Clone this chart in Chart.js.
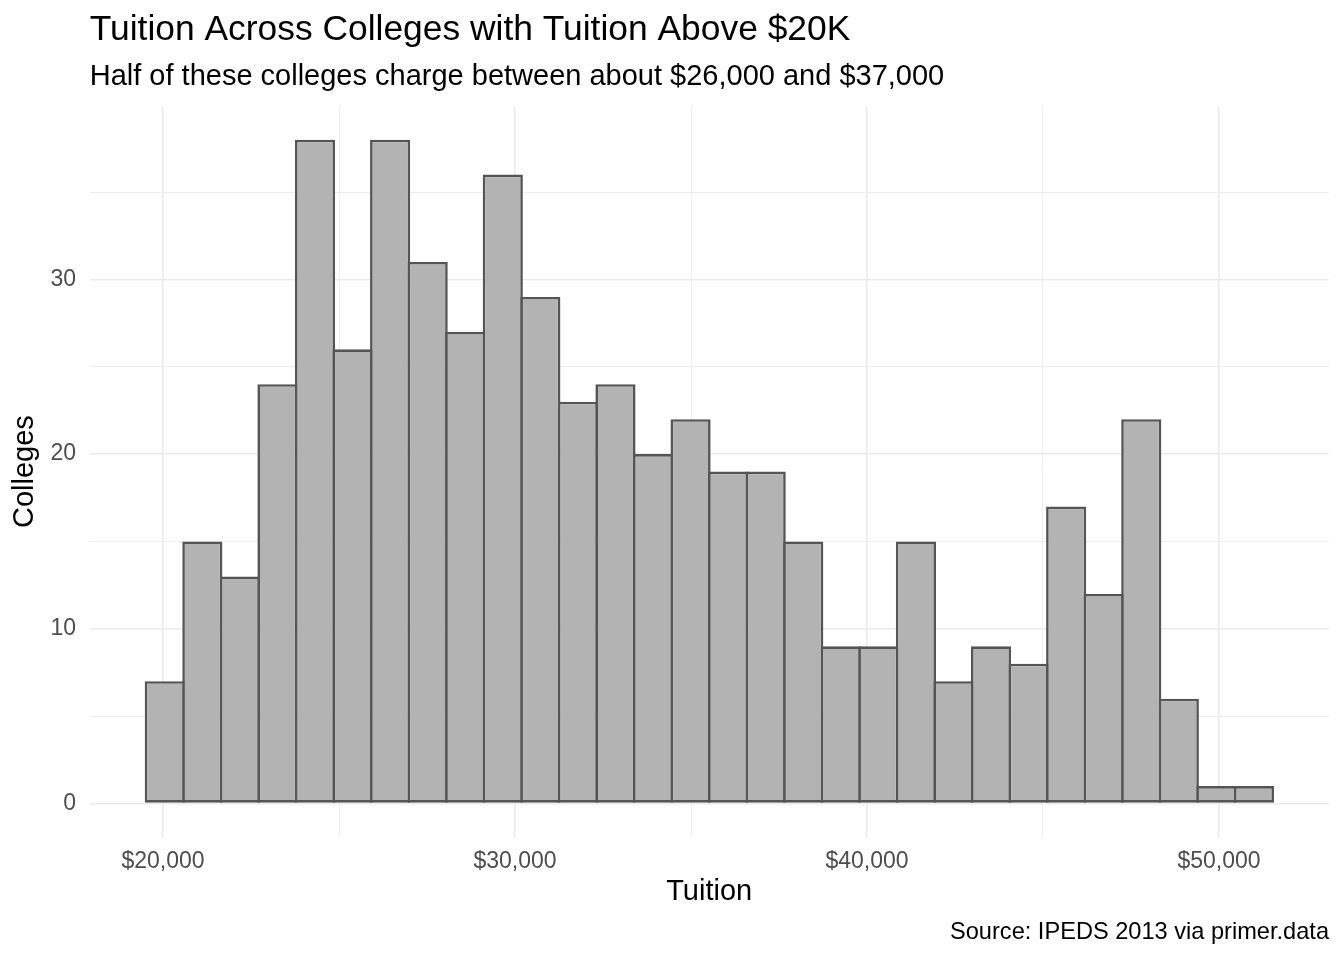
<!DOCTYPE html>
<html>
<head>
<meta charset="utf-8">
<script src="https://cdn.jsdelivr.net/npm/chart.js@4/dist/chart.umd.min.js"></script>
<style>
  html, body { margin: 0; padding: 0; background: #fff; }
  #wrap { width: 1344px; height: 960px; }
</style>
</head>
<body>
<div id="wrap"><canvas id="myChart" width="1344" height="960"></canvas></div>
<script>
// ヒストグラムの各ビンの中心(学費, ドル)
const binCenters = [
  20050, 21117, 22184, 23251, 24318, 25385, 26452, 27519, 28586, 29653,
  30720, 31787, 32854, 33921, 34988, 36055, 37122, 38189, 39256, 40323,
  41390, 42457, 43524, 44591, 45658, 46725, 47792, 48859, 49926, 50993
];

// 各ビンの大学数
const counts = [
  7, 15, 13, 24, 38, 26, 38, 31, 27, 36,
  29, 23, 24, 20, 22, 19, 19, 15, 9, 9,
  15, 7, 9, 8, 17, 12, 22, 6, 1, 1
];

// 目盛り線の位置と、ラベルを出す目盛り
const xGrid = [20000, 25000, 30000, 35000, 40000, 45000, 50000];
const xTickLabels = [20000, 30000, 40000, 50000];
const yGrid = [0, 5, 10, 15, 20, 25, 30, 35];
const yTickLabels = [0, 10, 20, 30];

const titleText = 'Tuition Across Colleges with Tuition Above $20K';
const subtitleText = 'Half of these colleges charge between about $26,000 and $37,000';
const captionText = 'Source: IPEDS 2013 via primer.data';

Chart.defaults.font.family = "'Liberation Sans', Arial, sans-serif";
Chart.defaults.color = '#4d4d4d';

// キャプションは右下に自前で描く
const captionPlugin = {
  id: 'caption',
  afterDraw(chart) {
    const ctx = chart.ctx;
    ctx.save();
    ctx.font = "23.6px 'Liberation Sans', Arial, sans-serif";
    ctx.fillStyle = '#000000';
    ctx.textAlign = 'right';
    ctx.textBaseline = 'alphabetic';
    ctx.fillText(captionText, 1329, 939);
    ctx.restore();
  }
};

const data = {
  datasets: [{
    label: 'Colleges',
    data: binCenters.map((x, i) => ({ x: x, y: counts[i] })),
    backgroundColor: '#b3b3b3',
    borderColor: '#555555',
    borderWidth: 2.6,
    borderSkipped: false,
    barPercentage: 1.069,
    categoryPercentage: 1.0
  }]
};

const config = {
  type: 'bar',
  data: data,
  options: {
    responsive: false,
    animation: false,
    devicePixelRatio: 1,
    layout: { padding: { left: 0, right: 15.3, top: 0, bottom: 40 } },
    plugins: {
      legend: { display: false },
      tooltip: { enabled: false },
      title: {
        display: true,
        text: titleText,
        align: 'start',
        fullSize: false,
        color: '#000000',
        font: { size: 35.4, weight: 'normal' },
        padding: { top: 8.5, bottom: 0 }
      },
      subtitle: {
        display: true,
        text: subtitleText,
        align: 'start',
        fullSize: false,
        color: '#000000',
        font: { size: 29, weight: 'normal' },
        padding: { top: 8.6, bottom: 12.1 }
      }
    },
    scales: {
      x: {
        type: 'linear',
        offset: false,
        min: 17917,
        max: 53117,
        afterFit: (s) => { s.height = 83.3; },
        afterBuildTicks: (s) => { s.ticks = xGrid.map((v) => ({ value: v })); },
        grid: {
          offset: false,
          drawTicks: false,
          color: '#ebebeb',
          lineWidth: (c) => (xTickLabels.includes(c.tick.value) ? 1.6 : 0.9)
        },
        border: { display: false },
        ticks: {
          autoSkip: false,
          maxRotation: 0,
          padding: 11,
          color: '#4d4d4d',
          font: { size: 23 },
          callback: (v) => (xTickLabels.includes(v) ? '$' + v.toLocaleString('en-US') : '')
        },
        title: {
          display: true,
          text: 'Tuition',
          color: '#000000',
          font: { size: 29 },
          padding: { top: 0, bottom: 10.6 }
        }
      },
      y: {
        min: -1.9,
        max: 39.9,
        afterFit: (s) => { s.width = 89.7; },
        afterBuildTicks: (s) => { s.ticks = yGrid.map((v) => ({ value: v })); },
        grid: {
          drawTicks: false,
          color: '#ebebeb',
          lineWidth: (c) => (yTickLabels.includes(c.tick.value) ? 1.6 : 0.9)
        },
        border: { display: false },
        ticks: {
          autoSkip: false,
          padding: 13.7,
          color: '#4d4d4d',
          font: { size: 23 },
          callback: (v) => (yTickLabels.includes(v) ? String(v) : '')
        },
        title: {
          display: true,
          text: 'Colleges',
          color: '#000000',
          font: { size: 29 },
          padding: { top: 7.6, bottom: 0 }
        }
      }
    }
  },
  plugins: [captionPlugin]
};

const myChart = new Chart(document.getElementById('myChart'), config);
</script>
</body>
</html>
